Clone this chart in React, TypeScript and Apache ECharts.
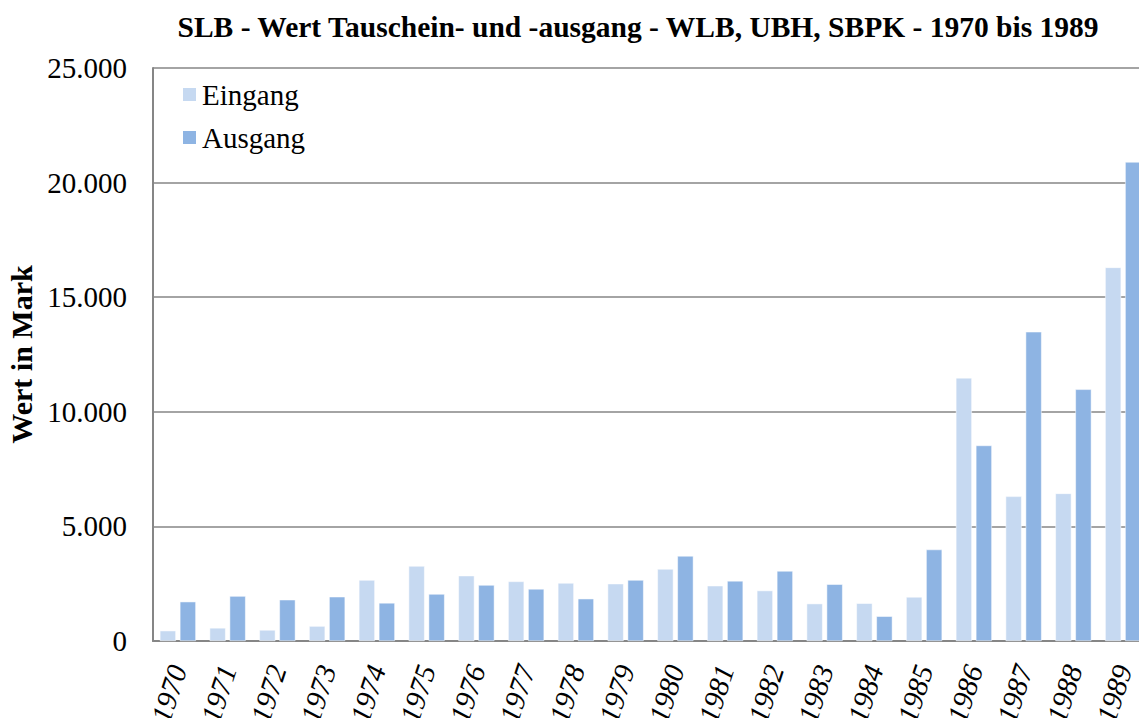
import React, { useEffect, useRef } from "react";
import * as echarts from "echarts";

const years = ["1970","1971","1972","1973","1974","1975","1976","1977","1978","1979","1980","1981","1982","1983","1984","1985","1986","1987","1988","1989"];
const eingang = [450, 570, 480, 650, 2660, 3270, 2850, 2600, 2530, 2500, 3140, 2410, 2200, 1630, 1645, 1920, 11480, 6310, 6440, 16300];
const ausgang = [1715, 1960, 1800, 1930, 1660, 2050, 2440, 2270, 1845, 2660, 3710, 2620, 3055, 2475, 1080, 3990, 8530, 13490, 10980, 20900];
const yTicks = [0, 5000, 10000, 15000, 20000, 25000];

const fmt = (v: number) => (v === 0 ? "0" : v.toString().replace(/\B(?=(\d{3})+(?!\d))/g, "."));

export default function App() {
  const ref = useRef<HTMLDivElement>(null);
  useEffect(() => {
    document.body.style.margin = "0";
    const chart = echarts.init(ref.current!, null, { renderer: "svg" });
    const serif = "'Liberation Serif', 'Times New Roman', serif";
    chart.setOption({
      animation: false,
      backgroundColor: "#ffffff",
      title: {
        text: "SLB - Wert Tauschein- und -ausgang - WLB, UBH, SBPK - 1970 bis 1989",
        left: 638,
        textAlign: "center",
        top: 12,
        padding: 0,
        textStyle: { fontFamily: serif, fontWeight: "bold", fontSize: 29.5, color: "#000" },
      },
      legend: {
        orient: "vertical",
        left: 181,
        top: 80,
        padding: 0,
        itemWidth: 15,
        itemHeight: 15,
        itemGap: 14,
        icon: "rect",
        textStyle: { fontFamily: serif, fontSize: 29, color: "#000" },
        data: ["Eingang", "Ausgang"],
      },
      grid: {
        left: 153,
        top: 68,
        width: 995,
        height: 573,
        containLabel: false,
        outerBoundsMode: "none",
      },
      xAxis: {
        type: "category",
        data: years,
        axisLine: { lineStyle: { color: "#868686", width: 2 } },
        axisTick: { show: false },
        axisLabel: {
          rotate: 72,
          margin: 25,
          fontFamily: serif,
          fontStyle: "italic",
          fontSize: 29,
          color: "#000",
        },
      },
      yAxis: {
        type: "value",
        min: yTicks[0],
        max: yTicks[yTicks.length - 1],
        interval: 5000,
        name: "Wert in Mark",
        nameLocation: "middle",
        nameGap: 115,
        nameTextStyle: { fontFamily: serif, fontWeight: "bold", fontSize: 30, color: "#000" },
        axisLine: { show: true, lineStyle: { color: "#868686", width: 2 } },
        axisTick: { show: false },
        splitLine: { lineStyle: { color: "#868686", width: 1.5 } },
        axisLabel: {
          margin: 26,
          fontFamily: serif,
          fontSize: 29,
          color: "#000",
          formatter: (v: number) => fmt(v),
        },
      },
      series: [
        {
          name: "Eingang",
          type: "bar",
          data: eingang,
          barWidth: 16,
          barGap: "25%",
          itemStyle: { color: "#C6D9F1", borderColor: "#ffffff", borderWidth: 0.5 },
        },
        {
          name: "Ausgang",
          type: "bar",
          data: ausgang,
          barWidth: 16,
          barGap: "25%",
          itemStyle: { color: "#8EB4E3", borderColor: "#ffffff", borderWidth: 0.5 },
        },
      ],
    });
    return () => chart.dispose();
  }, []);
  return <div ref={ref} style={{ width: 1139, height: 718 }} />;
}
